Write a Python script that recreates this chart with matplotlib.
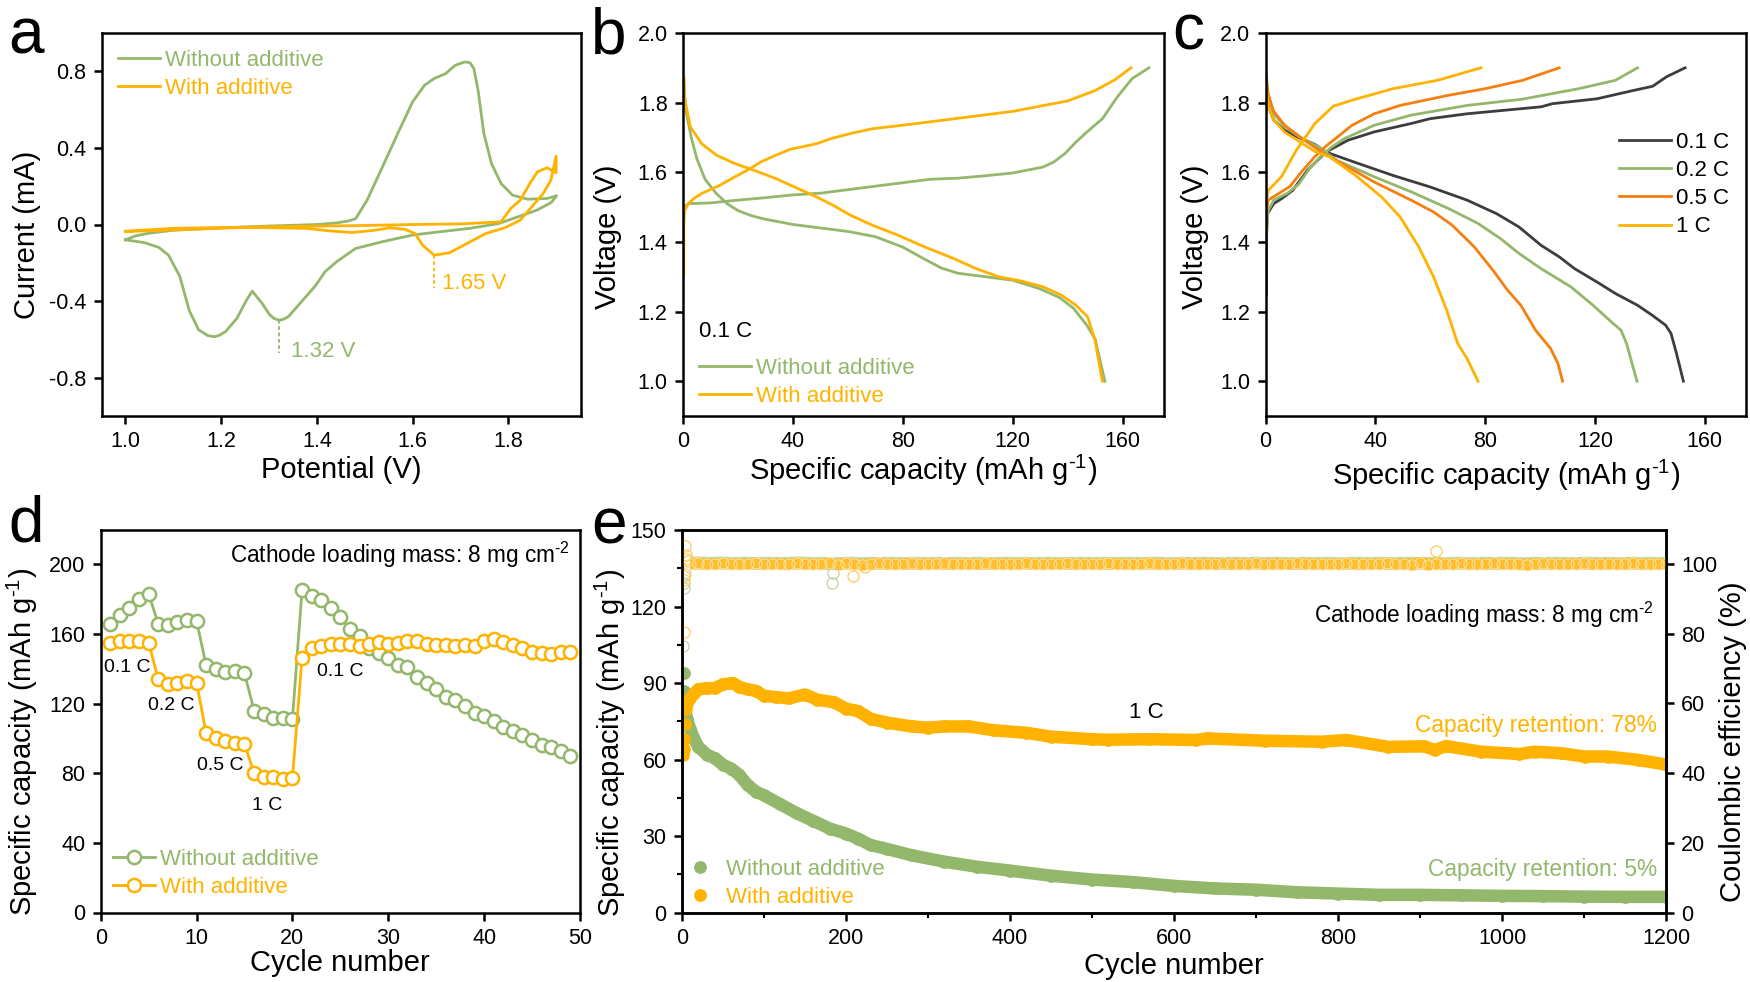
#!/usr/bin/env python3

import numpy as np
import matplotlib
matplotlib.use("Agg")
import matplotlib.pyplot as plt
from matplotlib.ticker import MultipleLocator

W, H = 1750, 982
GREEN = "#93B76B"
ORANGE = "#FFB300"
DEEP_ORANGE = "#F57F0F"
DARK = "#3D3D3D"

plt.rcParams.update(
    {
        "font.family": ["Liberation Sans", "DejaVu Sans"],
        "mathtext.fontset": "custom",
        "mathtext.rm": "Liberation Sans",
        "mathtext.default": "regular",
        "axes.unicode_minus": False,
        "axes.linewidth": 1.8,
        "font.size": 15,
    }
)

# panel a: cyclic voltammetry, (potential, current)
cv_without_x = [1.0, 1.02, 1.05, 1.1, 1.2, 1.3, 1.4, 1.44, 1.465, 1.481, 1.505, 1.537, 1.569, 1.60, 1.625, 1.645, 1.669, 1.689,
                1.709, 1.72, 1.728, 1.737, 1.749, 1.765, 1.785, 1.809, 1.841, 1.881, 1.901,
                1.89, 1.86, 1.82, 1.78, 1.72, 1.65, 1.60, 1.537, 1.481, 1.441, 1.417, 1.397, 1.369, 1.341, 1.33, 1.321, 1.31,
                1.301, 1.285, 1.265, 1.253, 1.233, 1.209, 1.195, 1.185, 1.172, 1.153, 1.1335, 1.1135, 1.09, 1.07, 1.04, 1.0]
cv_without_y = [-0.08, -0.06, -0.045, -0.03, -0.018, -0.008, 0.0, 0.008, 0.018, 0.03, 0.127, 0.30, 0.475, 0.64, 0.727, 0.762, 0.788, 0.831,
                0.849, 0.845, 0.815, 0.70, 0.475, 0.318, 0.214, 0.153, 0.132, 0.136, 0.15,
                0.115, 0.075, 0.04, 0.005, -0.02, -0.04, -0.055, -0.09, -0.125, -0.195, -0.247, -0.32, -0.40, -0.48, -0.495, -0.5, -0.49,
                -0.47, -0.41, -0.348, -0.395, -0.49, -0.56, -0.58, -0.586, -0.58, -0.55, -0.45, -0.27, -0.16, -0.12, -0.095, -0.08]
cv_with_x = [1.0, 1.1, 1.3, 1.5, 1.6, 1.7, 1.785, 1.805, 1.825, 1.845, 1.861, 1.881, 1.9,
             1.9, 1.889, 1.873, 1.849, 1.825, 1.793, 1.753, 1.713, 1.677, 1.645, 1.621, 1.605, 1.585, 1.553, 1.521, 1.473, 1.425, 1.377, 1.25, 1.0]
cv_with_y = [-0.035, -0.02, -0.012, -0.005, 0.0, 0.003, 0.014, 0.083, 0.127, 0.214, 0.275, 0.296, 0.27,
             0.357, 0.231, 0.162, 0.092, 0.023, -0.017, -0.047, -0.1, -0.148, -0.16, -0.108, -0.047, -0.026, -0.017, -0.03, -0.042, -0.033, -0.02, -0.015, -0.037]

# panel b: voltage profiles at 0.1 C
b_without_charge_x = [0.3, 2, 10, 20, 30, 40, 50, 60, 70, 80, 90, 100, 110, 120, 131, 135, 139, 143, 147, 152.6, 158, 163.4, 169.5]
b_without_charge_y = [1.5, 1.51, 1.512, 1.52, 1.527, 1.535, 1.54, 1.55, 1.56, 1.57, 1.58, 1.583, 1.59, 1.598, 1.615, 1.63, 1.654, 1.687, 1.716, 1.754, 1.816, 1.869, 1.9]
b_without_dis_x = [0.3, 1, 3, 5, 8, 12, 16, 20, 25, 30, 40, 50, 60, 70, 80, 88, 94, 100, 110, 120, 130, 137, 142, 147, 150, 152, 153.5]
b_without_dis_y = [1.85, 1.78, 1.70, 1.64, 1.58, 1.54, 1.51, 1.49, 1.475, 1.465, 1.45, 1.44, 1.43, 1.415, 1.385, 1.35, 1.325, 1.31, 1.30, 1.29, 1.265, 1.24, 1.21, 1.16, 1.12, 1.05, 1.0]
b_with_charge_x = [0.3, 0.3, 0.6, 2, 4, 6.8, 13.5, 18.9, 24.3, 28.4, 33.8, 39, 48.6, 54, 60.8, 68.9, 79.7, 90, 100, 110, 120, 130, 140, 150, 157, 163]
b_with_charge_y = [1.31, 1.45, 1.49, 1.51, 1.525, 1.539, 1.563, 1.587, 1.61, 1.63, 1.649, 1.666, 1.682, 1.697, 1.711, 1.725, 1.735, 1.745, 1.755, 1.765, 1.775, 1.79, 1.805, 1.835, 1.865, 1.9]
b_with_dis_x = [0.4, 0.7, 2.7, 6.8, 12.2, 18.9, 25.7, 33.8, 41.9, 48.6, 54.7, 60.8, 68.9, 78.3, 87.8, 98.6, 106.7, 114.8, 122.9, 131, 137.7, 143, 147.2, 149.9, 151.2, 152.6]
b_with_dis_y = [1.87, 1.807, 1.73, 1.682, 1.649, 1.625, 1.606, 1.582, 1.553, 1.529, 1.505, 1.477, 1.448, 1.419, 1.386, 1.352, 1.323, 1.30, 1.288, 1.271, 1.247, 1.218, 1.185, 1.118, 1.06, 1.0]

# panel c: voltage profiles at four rates
c_01_charge_x = [0.3, 0.4, 0.7, 3, 6, 9.9, 15.3, 22, 30, 39.6, 53, 60, 73.4, 86.9, 100.4, 104.5, 120.7, 134, 141, 146, 152.8]
c_01_charge_y = [1.25, 1.42, 1.481, 1.51, 1.525, 1.548, 1.606, 1.658, 1.692, 1.716, 1.74, 1.754, 1.768, 1.778, 1.788, 1.797, 1.811, 1.835, 1.847, 1.874, 1.9]
c_01_dis_x = [0.3, 1, 3, 7, 12, 18, 22, 32.8, 46.4, 59.9, 73.4, 84.2, 92.3, 100.4, 107, 112.6, 120.7, 127.4, 135.5, 140.9, 145.7, 147.7, 149.7, 152.2]
c_01_dis_y = [1.83, 1.79, 1.75, 1.72, 1.7, 1.68, 1.658, 1.628, 1.591, 1.558, 1.52, 1.481, 1.443, 1.39, 1.357, 1.323, 1.285, 1.252, 1.218, 1.189, 1.161, 1.137, 1.079, 1.0]
c_02_charge_x = [0.3, 0.4, 1, 3, 8, 12, 16, 20, 24, 28.8, 39.6, 53, 73.4, 93.6, 114, 127.4, 135.5]
c_02_charge_y = [1.32, 1.45, 1.49, 1.52, 1.54, 1.565, 1.61, 1.645, 1.672, 1.697, 1.735, 1.764, 1.792, 1.81, 1.84, 1.864, 1.9]
c_02_dis_x = [0.3, 0.7, 3, 7.2, 12.6, 19.3, 26, 39.6, 53, 66.6, 77.4, 85.5, 92.3, 100.4, 111.2, 119.3, 126, 129.5, 131.5, 133.5, 135.3]
c_02_dis_y = [1.88, 1.835, 1.768, 1.73, 1.70, 1.673, 1.634, 1.587, 1.544, 1.496, 1.453, 1.41, 1.367, 1.323, 1.271, 1.218, 1.17, 1.146, 1.108, 1.051, 1.0]
c_05_charge_x = [0.3, 0.4, 1, 5, 9, 13, 18, 22, 26, 31.5, 39.6, 49, 66.6, 80, 93.6, 107]
c_05_charge_y = [1.43, 1.49, 1.52, 1.54, 1.56, 1.6, 1.645, 1.675, 1.70, 1.735, 1.768, 1.792, 1.821, 1.84, 1.864, 1.9]
c_05_dis_x = [0.3, 1, 3, 7, 12, 20, 30, 39.6, 53, 61.2, 68, 76, 82.8, 88.2, 93, 98.4, 103.8, 106.5, 108.2]
c_05_dis_y = [1.87, 1.82, 1.775, 1.735, 1.705, 1.66, 1.615, 1.572, 1.52, 1.486, 1.448, 1.386, 1.319, 1.261, 1.218, 1.146, 1.094, 1.051, 1.0]
c_1_charge_x = [0.3, 0.6, 1, 5.8, 11.2, 18, 24.7, 32.8, 46.4, 62.6, 78.5]
c_1_charge_y = [1.5, 1.53, 1.548, 1.587, 1.663, 1.74, 1.79, 1.81, 1.84, 1.864, 1.9]
c_1_dis_x = [0.3, 1, 3, 7, 12, 18, 23.4, 32.8, 42.3, 49, 55.8, 61.2, 66, 70, 73.4, 77.4]
c_1_dis_y = [1.84, 1.79, 1.75, 1.715, 1.69, 1.66, 1.644, 1.591, 1.529, 1.472, 1.386, 1.30, 1.204, 1.108, 1.065, 1.0]

# panel d: rate capability
d_cycles = list(range(1, 50))
d_without = [166, 171, 175, 180, 183, 166, 165, 167, 168, 167.5, 142, 140, 138, 138.5, 137.5, 116, 114, 112, 112, 111,
             185, 182, 179.5, 175, 169.5, 163, 159, 152, 149, 146, 142, 141, 135, 132, 128.5, 124, 122, 118.5, 114.5, 113,
             110, 106.5, 104, 102, 99, 96, 95, 93, 90]
d_with = [155, 156, 156, 156, 155, 134, 131, 132, 133, 132, 103, 100, 98.5, 97.5, 97, 80, 78, 78, 76.5, 77,
          146, 152, 153, 154, 154.5, 154.5, 153, 154, 155.5, 154, 155, 156, 156, 154, 153.5, 153.5, 153, 153.5, 153, 156,
          157, 155.5, 153.5, 152, 149.5, 149, 148.5, 149.5, 149.5]

# panel e: long cycling, capacity
e_without_x = [2, 3, 4, 6, 10, 15, 20, 30, 40, 50, 60, 70, 80, 90, 100, 120, 140, 160, 180, 200, 215, 230, 250, 280, 320,
               360, 400, 450, 500, 550, 600, 650, 700, 750, 800, 850, 900, 950, 1000, 1050, 1100, 1150, 1200]
e_without_y = [94, 87, 80, 76, 72, 68, 65, 62, 60.5, 58, 56.5, 54, 50, 47.5, 46, 42.5, 39, 36, 33, 31, 29, 26.5, 25, 22.5, 20,
               18, 16.5, 14.5, 13, 12, 10.5, 9.5, 9, 8, 7.5, 7, 7, 6.8, 6.6, 6.5, 6.3, 6.2, 6.2]
e_with_x = [1, 2, 3, 4, 5, 6, 10, 15, 20, 30, 40, 50, 62, 70, 80, 90, 100, 115, 130, 150, 165, 185, 200, 215, 230, 250, 280,
            300, 320, 350, 380, 420, 450, 500, 520, 570, 627, 641, 711, 780, 810, 861, 905, 918, 932, 974, 1021, 1040, 1072, 1101, 1129, 1166, 1201]
e_with_y = [62, 64, 68, 74, 80, 82, 84, 86, 87.5, 88, 88, 89.5, 90, 88.5, 87.5, 87, 85, 84.5, 84, 85.5, 83.5, 82.5, 80, 79, 76, 74.5, 73,
            72.5, 73, 73, 71.5, 70.5, 69, 68, 67.8, 68, 67.7, 68.3, 67.4, 67, 67.7, 65, 65.2, 63.8, 65.3, 63.1, 62.2, 63.1, 62.5, 61.2, 61.2, 59.9, 58]

# panel e: coulombic efficiency, every 10 cycles plus the stray points
ce_cycles = list(range(10, 1201, 10))
ce_without = [100.2, 100.3, 100.2, 100.2, 100.3, 100.1, 100.2, 100.2, 100.1, 100.2, 100.2, 100.1, 100.2, 100.3, 100.2, 100.1, 100.2, 100.0, 100.1, 100.2,
              100.2, 100.1, 100.2, 100.1, 100.2, 100.2, 100.1, 100.2, 100.2, 100.1, 100.2, 100.1, 100.2, 100.2, 100.1, 100.2, 100.1, 100.1, 100.2, 100.2,
              100.1, 100.2, 100.1, 100.2, 100.2, 100.1, 100.1, 100.2, 100.2, 100.1, 100.2, 100.1, 100.1, 100.2, 100.2, 100.1, 100.2, 100.2, 100.1, 100.1,
              100.2, 100.1, 100.2, 100.2, 100.1, 100.1, 100.2, 100.2, 100.1, 100.2, 100.1, 100.2, 100.2, 100.1, 100.1, 100.2, 100.1, 100.2, 100.2, 100.1,
              100.1, 100.2, 100.2, 100.1, 100.2, 100.1, 100.1, 100.2, 100.2, 100.1, 100.2, 100.1, 100.1, 100.2, 100.2, 100.1, 100.1, 100.2, 100.1, 100.2,
              100.2, 100.1, 100.1, 100.2, 100.1, 100.2, 100.2, 100.1, 100.1, 100.2, 100.2, 100.1, 100.2, 100.1, 100.1, 100.2, 100.1, 100.2, 100.1, 100.1]
ce_with = [100.0, 100.1, 99.9, 100.0, 100.1, 100.0, 99.9, 100.0, 100.1, 99.9, 100.0, 100.0, 99.9, 100.1, 100.0, 99.9, 100.0, 100.1, 99.8, 100.1,
           100.0, 99.7, 100.0, 100.1, 100.0, 99.9, 100.0, 100.1, 99.9, 100.0, 100.0, 100.1, 99.9, 100.0, 100.0, 99.9, 100.1, 100.0, 100.0, 99.9,
           100.0, 100.1, 100.0, 99.9, 100.0, 100.0, 100.1, 99.9, 100.0, 100.0, 99.9, 100.1, 100.0, 100.0, 99.9, 100.0, 100.1, 100.0, 99.9, 100.0,
           100.1, 100.0, 99.9, 100.0, 100.0, 100.1, 99.9, 100.0, 100.0, 100.1, 99.9, 100.0, 100.0, 99.9, 100.1, 100.0, 100.0, 99.9, 100.0, 99.9,
           100.1, 100.0, 99.9, 100.0, 100.0, 100.1, 99.9, 100.0, 99.8, 100.3, 99.8, 100.0, 100.0, 99.9, 100.1, 100.0, 99.9, 100.0, 100.1, 100.0,
           100.0, 99.9, 99.7, 100.0, 100.1, 100.0, 99.9, 100.0, 100.0, 100.1, 99.9, 100.0, 100.0, 99.9, 100.0, 100.1, 100.0, 99.9, 100.0, 100.0]
ce_without_stray_x = [1, 2, 3, 4, 183, 184]
ce_without_stray_y = [76.5, 93.0, 94.5, 97.0, 94.5, 97.5]
ce_with_stray_x = [2, 3, 3, 4, 5, 6, 7, 209, 223, 920]
ce_with_stray_y = [80.6, 95.4, 96.5, 105.0, 102.5, 101.5, 100.8, 96.6, 99.0, 103.7]

label_capacity = r"Specific capacity (mAh g$^{\text{-1}}$)"
label_loading = r"Cathode loading mass: 8 mg cm$^{\text{-2}}$"


def add_axes(fig, left, right, top, bottom):
    return fig.add_axes([left / W, 1 - bottom / H, (right - left) / W, (bottom - top) / H])


def fig_text(fig, x, y, s, **kwargs):
    kwargs.setdefault("fontsize", 16)
    if "va" not in kwargs:
        kwargs["va"] = "center"
        y = y + 2.5
    return fig.text(x / W, 1 - y / H, s, **kwargs)


def style_axis(ax):
    ax.tick_params(which="major", length=6, width=1.8, labelsize=15.5, pad=5)
    ax.tick_params(which="minor", length=3.5, width=1.5)


def set_labels(ax, xlabel, ylabel, yfrac, xpad=4, xoff=-0.13):
    ax.set_xlabel(xlabel, fontsize=21, labelpad=xpad)
    ax.set_ylabel(ylabel, fontsize=21)
    ax.yaxis.set_label_coords(xoff, yfrac)


def add_legend(ax, fig, x, y, **kwargs):
    opts = dict(
        loc="upper left",
        bbox_to_anchor=(x / W, 1 - y / H),
        bbox_transform=fig.transFigure,
        frameon=False,
        borderpad=0,
        borderaxespad=0,
        fontsize=16,
        handlelength=1.9,
        handletextpad=0.22,
        labelspacing=0.32,
    )
    opts.update(kwargs)
    return ax.legend(**opts)


def main():
    fig = plt.figure(figsize=(W / 100, H / 100), dpi=100)

    # a
    ax = add_axes(fig, 101.5, 581, 33, 416)
    ax.plot(cv_without_x, cv_without_y, color=GREEN, lw=2, label="Without additive")
    ax.plot(cv_with_x, cv_with_y, color=ORANGE, lw=2, label="With additive")
    ax.plot([1.32, 1.32], [-0.5, -0.67], color=GREEN, lw=1.3, ls=(0, (2, 1.5)))
    ax.plot([1.645, 1.645], [-0.16, -0.33], color=ORANGE, lw=1.3, ls=(0, (2, 1.5)))
    ax.set_xlim(0.95, 1.952)
    ax.set_ylim(-1.0, 1.0)
    ax.set_xticks([1.0, 1.2, 1.4, 1.6, 1.8])
    ax.set_yticks([-0.8, -0.4, 0.0, 0.4, 0.8])
    style_axis(ax)
    set_labels(ax, "Potential (V)", "Current (mA)", 0.472, xpad=2.5, xoff=-0.126)
    add_legend(ax, fig, 118, 50, labelcolor=[GREEN, ORANGE])
    fig_text(fig, 291, 349, "1.32 V", color=GREEN)
    fig_text(fig, 442, 281, "1.65 V", color=ORANGE)

    # b
    ax = add_axes(fig, 683, 1164, 33, 416)
    ax.plot(b_without_charge_x, b_without_charge_y, color=GREEN, lw=2, label="Without additive")
    ax.plot(b_without_dis_x, b_without_dis_y, color=GREEN, lw=2)
    ax.plot(b_with_charge_x, b_with_charge_y, color=ORANGE, lw=2, label="With additive")
    ax.plot(b_with_dis_x, b_with_dis_y, color=ORANGE, lw=2)
    ax.set_xlim(0, 175)
    ax.set_ylim(0.9, 2.0)
    ax.set_xticks([0, 40, 80, 120, 160])
    ax.set_yticks([1.0, 1.2, 1.4, 1.6, 1.8, 2.0])
    style_axis(ax)
    set_labels(ax, label_capacity, "Voltage (V)", 0.467, xpad=0.5, xoff=-0.127)
    add_legend(ax, fig, 699, 358, labelcolor=[GREEN, ORANGE], handlelength=2.35)
    fig_text(fig, 699, 329, "0.1 C")

    # c
    ax = add_axes(fig, 1265.5, 1746, 33, 416)
    ax.plot(c_01_charge_x, c_01_charge_y, color=DARK, lw=2, label="0.1 C")
    ax.plot(c_01_dis_x, c_01_dis_y, color=DARK, lw=2)
    ax.plot(c_02_charge_x, c_02_charge_y, color=GREEN, lw=2, label="0.2 C")
    ax.plot(c_02_dis_x, c_02_dis_y, color=GREEN, lw=2)
    ax.plot(c_05_charge_x, c_05_charge_y, color=DEEP_ORANGE, lw=2, label="0.5 C")
    ax.plot(c_05_dis_x, c_05_dis_y, color=DEEP_ORANGE, lw=2)
    ax.plot(c_1_charge_x, c_1_charge_y, color=ORANGE, lw=2, label="1 C")
    ax.plot(c_1_dis_x, c_1_dis_y, color=ORANGE, lw=2)
    ax.set_xlim(0, 175)
    ax.set_ylim(0.9, 2.0)
    ax.set_xticks([0, 40, 80, 120, 160])
    ax.set_yticks([1.0, 1.2, 1.4, 1.6, 1.8, 2.0])
    style_axis(ax)
    set_labels(ax, label_capacity, "Voltage (V)", 0.467, xpad=4, xoff=-0.118)
    add_legend(ax, fig, 1619, 132, handlelength=2.35)

    # d
    ax = add_axes(fig, 100.7, 580, 529.5, 912.5)
    ax.plot(d_cycles, d_without, "-o", color=GREEN, lw=2, ms=9.5, mew=1.8, mfc="white", label="Without additive")
    ax.plot(d_cycles, d_with, "-o", color=ORANGE, lw=2, ms=9.5, mew=1.8, mfc="white", label="With additive")
    ax.set_xlim(0, 50)
    ax.set_ylim(0, 220)
    ax.set_xticks([0, 10, 20, 30, 40, 50])
    ax.set_yticks([0, 40, 80, 120, 160, 200])
    style_axis(ax)
    set_labels(ax, "Cycle number", label_capacity, 0.444, xpad=0, xoff=-0.127)
    add_legend(ax, fig, 113, 849, labelcolor=[GREEN, ORANGE])
    fig_text(fig, 229.5, 552, label_loading, fontsize=16.3)
    fig_text(fig, 127, 665, "0.1 C", ha="center", fontsize=14)
    fig_text(fig, 171, 703, "0.2 C", ha="center", fontsize=14)
    fig_text(fig, 220, 763, "0.5 C", ha="center", fontsize=14)
    fig_text(fig, 267.5, 803, "1 C", ha="center", fontsize=14)
    fig_text(fig, 340, 669, "0.1 C", ha="center", fontsize=14)

    # e
    ax = add_axes(fig, 682, 1666, 530, 912.7)
    ax.plot(e_without_x[2:], e_without_y[2:], color=GREEN, lw=9, solid_capstyle="round")
    ax.plot(e_without_x, e_without_y, "o", color=GREEN, ms=9.2, mew=0, label="Without additive")
    ax.plot(e_with_x[4:], e_with_y[4:], color=ORANGE, lw=9, solid_capstyle="round")
    ax.plot(e_with_x, e_with_y, "o", color=ORANGE, ms=9.2, mew=0, label="With additive")
    ax.set_xlim(0, 1200)
    ax.set_ylim(0, 150)
    ax.set_xticks([0, 200, 400, 600, 800, 1000, 1200])
    ax.set_yticks([0, 30, 60, 90, 120, 150])
    ax.xaxis.set_minor_locator(MultipleLocator(100))
    ax.yaxis.set_minor_locator(MultipleLocator(15))
    style_axis(ax)
    set_labels(ax, "Cycle number", label_capacity, 0.443, xpad=2.5, xoff=-0.055)
    add_legend(ax, fig, 689, 859, labelcolor=[GREEN, ORANGE], handlelength=1.0, handletextpad=0.65, numpoints=1)

    ax2 = ax.twinx()
    ax2.plot(ce_cycles, ce_without, color="#C6DAB0", lw=9.2, solid_capstyle="butt")
    ax2.plot(ce_cycles, ce_with, color="#FFBE2E", lw=8.4, solid_capstyle="butt")
    ax2.plot(ce_without_stray_x, ce_without_stray_y, "o", mfc="none", mec="#B9D09D", mew=0.8, ms=8)
    ax2.plot(ce_cycles, ce_with, "o", mfc="none", mec="#FFE3A6", mew=0.7, ms=8)
    ax2.plot(ce_with_stray_x, ce_with_stray_y, "o", mfc="none", mec="#FFCB5C", mew=0.9, ms=8)
    ax2.set_ylim(0, 109.7)
    ax2.set_yticks([0, 20, 40, 60, 80, 100])
    ax2.tick_params(which="major", length=6, width=1.8, labelsize=15.5, pad=5)
    ax2.set_ylabel("Coulombic efficiency (%)", fontsize=21)
    ax2.yaxis.set_label_coords(1.054, 0.446)

    fig_text(fig, 1314, 612, label_loading, fontsize=16.3)
    fig_text(fig, 1146, 710, "1 C", ha="center")
    fig_text(fig, 1657, 723, "Capacity retention: 78%", ha="right", color=ORANGE, fontsize=16.4)
    fig_text(fig, 1657, 867, "Capacity retention: 5%", ha="right", color=GREEN, fontsize=16.4)

    # panel letters
    for x, y, letter in [(8, 53, "a"), (591, 53, "b"), (1172, 50, "c"), (8, 542, "d"), (591, 544, "e")]:
        fig_text(fig, x, y, letter, va="baseline", fontsize=46)

    fig.savefig("out.png", dpi=100)


if __name__ == "__main__":
    main()
